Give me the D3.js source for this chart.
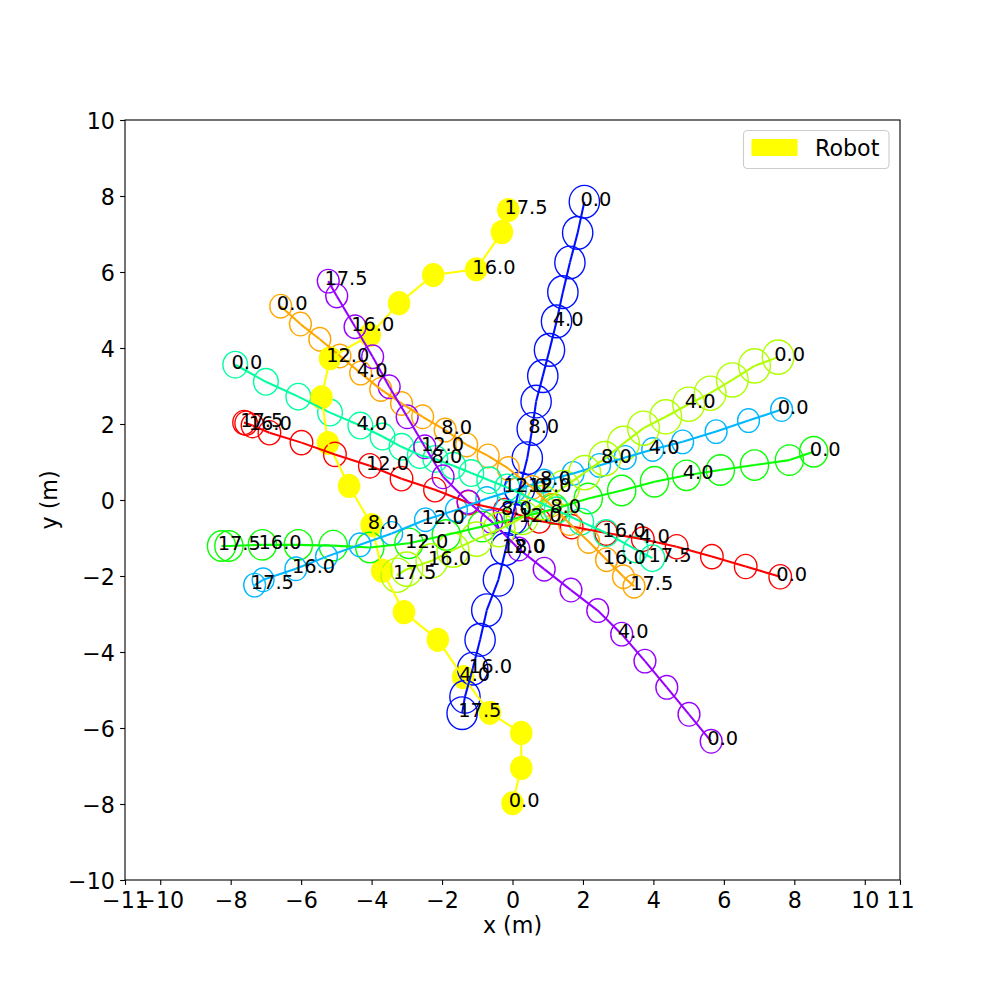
<!DOCTYPE html>
<html><head><meta charset="utf-8">
<script src="https://cdn.jsdelivr.net/npm/d3@7"></script>
<style>body{margin:0;background:#fff} text{font-family:"DejaVu Sans",sans-serif}</style>
</head><body><svg id="c" width="1000" height="989"></svg>
<script>
// ---------- data ----------
const times = [0,1,2,3,4,5,6,7,8,9,10,11,12,13,14,15,16,17,17.5];
const xTicks = [-11,-10,-8,-6,-4,-2,0,2,4,6,8,10,11];
const yTicks = [-10,-8,-6,-4,-2,0,2,4,6,8,10];
const humanColors = ["#ff0000","#ffa700","#afff00","#08ff00","#00ff9f","#00b7ff","#0010ff","#9700ff"];
const humanRadii = [0.32,0.31,0.45,0.40,0.35,0.31,0.43,0.31];
const robotRadius = 0.3;
const robotColor = "#ffff00";
const legendLabel = "Robot";

const redPath = [[7.6,-2.02],[6.62,-1.75],[5.66,-1.49],[4.66,-1.23],[3.7,-1.03],[2.66,-0.87],[1.68,-0.7],[0.76,-0.55],[-0.22,-0.28],[-1.25,-0.07],[-2.2,0.27],[-3.15,0.56],[-4.05,0.9],[-5.04,1.2],[-5.99,1.51],[-6.9,1.77],[-7.38,1.96],[-7.56,2.02],[-7.62,2.04]];
const orangePath = [[-6.58,5.1],[-6.02,4.63],[-5.47,4.23],[-4.9,3.79],[-4.31,3.34],[-3.74,2.91],[-3.15,2.54],[-2.55,2.19],[-1.91,1.84],[-1.3,1.45],[-0.69,1.16],[-0.12,0.83],[0.56,0.33],[1.09,-0.14],[1.62,-0.62],[2.16,-1.09],[2.67,-1.57],[3.15,-2.02],[3.45,-2.27]];
const yellowGreenPath = [[7.54,3.76],[6.87,3.53],[6.24,3.16],[5.61,2.81],[5.0,2.52],[4.35,2.19],[3.72,1.89],[3.15,1.49],[2.62,1.09],[2.05,0.72],[1.45,0.33],[0.86,-0.07],[0.28,-0.46],[-0.38,-0.78],[-1.02,-1.03],[-1.69,-1.32],[-2.29,-1.6],[-3.0,-1.82],[-3.28,-1.98]];
const limePath = [[8.55,1.27],[7.86,1.05],[6.87,0.92],[5.9,0.79],[4.94,0.65],[4.03,0.48],[3.1,0.25],[2.15,0.04],[1.18,-0.24],[0.16,-0.47],[-0.86,-0.7],[-1.88,-0.92],[-2.94,-1.14],[-4.05,-1.25],[-5.09,-1.2],[-6.08,-1.18],[-7.1,-1.18],[-8.05,-1.21],[-8.26,-1.21]];
const springPath = [[-7.87,3.56],[-7.0,3.11],[-6.08,2.72],[-5.18,2.3],[-4.32,1.96],[-3.69,1.67],[-3.15,1.4],[-2.63,1.18],[-2.19,1.08],[-1.68,0.9],[-1.17,0.71],[-0.66,0.52],[-0.15,0.33],[0.55,0.03],[1.25,-0.27],[1.95,-0.57],[2.66,-0.87],[3.5,-1.3],[3.97,-1.53]];
const skyPath = [[7.64,2.38],[6.7,2.09],[5.78,1.8],[4.83,1.53],[3.98,1.33],[3.2,1.12],[2.47,0.91],[1.72,0.7],[0.89,0.5],[0.08,0.27],[-0.73,0.04],[-1.59,-0.26],[-2.47,-0.52],[-3.43,-0.88],[-4.33,-1.18],[-5.28,-1.49],[-6.15,-1.81],[-7.08,-2.1],[-7.32,-2.24]];
const bluePath = [[2.04,7.85],[1.85,7.03],[1.63,6.25],[1.43,5.47],[1.25,4.7],[1.05,3.95],[0.86,3.26],[0.67,2.59],[0.56,1.87],[0.42,1.1],[0.2,0.3],[-0.02,-0.5],[-0.19,-1.29],[-0.4,-2.1],[-0.73,-2.9],[-0.92,-3.68],[-1.13,-4.44],[-1.35,-5.18],[-1.43,-5.61]];
const purplePath = [[5.64,-6.35],[5.01,-5.64],[4.38,-4.93],[3.76,-4.24],[3.1,-3.53],[2.42,-2.91],[1.66,-2.37],[0.9,-1.82],[0.18,-1.29],[-0.59,-0.57],[-1.26,-0.05],[-1.97,0.61],[-2.49,1.4],[-2.99,2.19],[-3.5,2.98],[-3.97,3.77],[-4.47,4.56],[-4.99,5.37],[-5.23,5.76]];
const robotPath = [[0.0,-7.98],[0.25,-7.05],[0.25,-6.13],[-0.64,-5.6],[-1.4,-4.66],[-2.12,-3.68],[-3.08,-2.95],[-3.7,-1.86],[-4.0,-0.66],[-4.64,0.37],[-5.24,1.5],[-5.42,2.7],[-5.18,3.73],[-4.05,4.34],[-3.22,5.18],[-2.25,5.92],[-1.03,6.07],[-0.3,7.05],[-0.12,7.63]];

const humanPaths = [redPath, orangePath, yellowGreenPath, limePath, springPath, skyPath, bluePath, purplePath];

// ---------- layout ----------
const svg = d3.select("#c");
const L = 125, R = 900, T = 120, B = 880;
const x = d3.scaleLinear().domain([-11, 11]).range([L, R]);
const y = d3.scaleLinear().domain([-10, 10]).range([B, T]);
const rx = r => x(r) - x(0);
const ry = r => y(0) - y(r);
const fmt = d => (d < 0 ? "\u2212" : "") + Math.abs(d);

svg.append("defs").append("clipPath").attr("id", "clip")
  .append("rect").attr("x", L).attr("y", T).attr("width", R - L).attr("height", B - T);

const plot = svg.append("g").attr("clip-path", "url(#clip)");

// circles (zorder 1)
const gCirc = plot.append("g");
times.forEach((t, k) => {
  const p = robotPath[k];
  gCirc.append("ellipse")
    .attr("cx", x(p[0])).attr("cy", y(p[1]))
    .attr("rx", rx(robotRadius)).attr("ry", ry(robotRadius))
    .attr("fill", robotColor).attr("stroke", robotColor).attr("stroke-width", 1.39);
  humanPaths.forEach((hp, i) => {
    const q = hp[k];
    gCirc.append("ellipse")
      .attr("cx", x(q[0])).attr("cy", y(q[1]))
      .attr("rx", rx(humanRadii[i])).attr("ry", ry(humanRadii[i]))
      .attr("fill", "none").attr("stroke", humanColors[i]).attr("stroke-width", 1.39);
  });
});

// trajectory segments (zorder 2)
const gLines = plot.append("g");
for (let k = 1; k < times.length; k++) {
  const seg = (path, color) => gLines.append("line")
    .attr("x1", x(path[k-1][0])).attr("y1", y(path[k-1][1]))
    .attr("x2", x(path[k][0])).attr("y2", y(path[k][1]))
    .attr("stroke", color).attr("stroke-width", 2.08).attr("stroke-linecap", "butt");
  seg(robotPath, robotColor);
  humanPaths.forEach((hp, i) => seg(hp, humanColors[i]));
}

// time labels (zorder 3)
const gText = svg.append("g");
const off = 0.11;
times.forEach((t, k) => {
  if (t % 4 === 0 || k === times.length - 1) {
    const agents = humanPaths.map(hp => hp[k]).concat([robotPath[k]]);
    agents.forEach(p => {
      gText.append("text")
        .attr("x", x(p[0] - off)).attr("y", y(p[1] - off))
        .attr("font-size", 19.4).attr("fill", "black")
        .text(t.toFixed(1));
    });
  }
});

// axes
const xAxis = d3.axisBottom(x).tickValues(xTicks).tickFormat(fmt).tickSize(4.9).tickPadding(7.2);
const yAxis = d3.axisLeft(y).tickValues(yTicks).tickFormat(fmt).tickSize(4.9).tickPadding(5.2);
const gx = svg.append("g").attr("transform", `translate(0,${B})`).call(xAxis);
const gy = svg.append("g").attr("transform", `translate(${L},0)`).call(yAxis);
[gx, gy].forEach(g => {
  g.select(".domain").remove();
  g.selectAll(".tick line").attr("stroke", "black").attr("stroke-width", 1.1);
  g.selectAll(".tick text").attr("font-size", 22.2).attr("fill", "black")
    .attr("font-family", "DejaVu Sans");
});
gy.selectAll(".tick text").attr("dy", "0.36em");

svg.append("rect").attr("x", L).attr("y", T).attr("width", R - L).attr("height", B - T)
  .attr("fill", "none").attr("stroke", "black").attr("stroke-width", 1.1);

svg.append("text").attr("x", (L + R) / 2).attr("y", 933).attr("text-anchor", "middle")
  .attr("font-size", 22.2).text("x (m)");
svg.append("text").attr("transform", `translate(57,${(T + B) / 2}) rotate(-90)`)
  .attr("text-anchor", "middle").attr("font-size", 22.2).text("y (m)");

// legend
const lg = svg.append("g");
lg.append("rect").attr("x", 743.5).attr("y", 130.5).attr("width", 145.5).attr("height", 38)
  .attr("rx", 4).attr("fill", "white").attr("fill-opacity", 0.8)
  .attr("stroke", "#cccccc").attr("stroke-width", 1.1);
lg.append("rect").attr("x", 752).attr("y", 139.5).attr("width", 45).attr("height", 16)
  .attr("fill", robotColor).attr("stroke", robotColor).attr("stroke-width", 1);
lg.append("text").attr("x", 815).attr("y", 155.5).attr("font-size", 22.2).text(legendLabel);
</script></body></html>
